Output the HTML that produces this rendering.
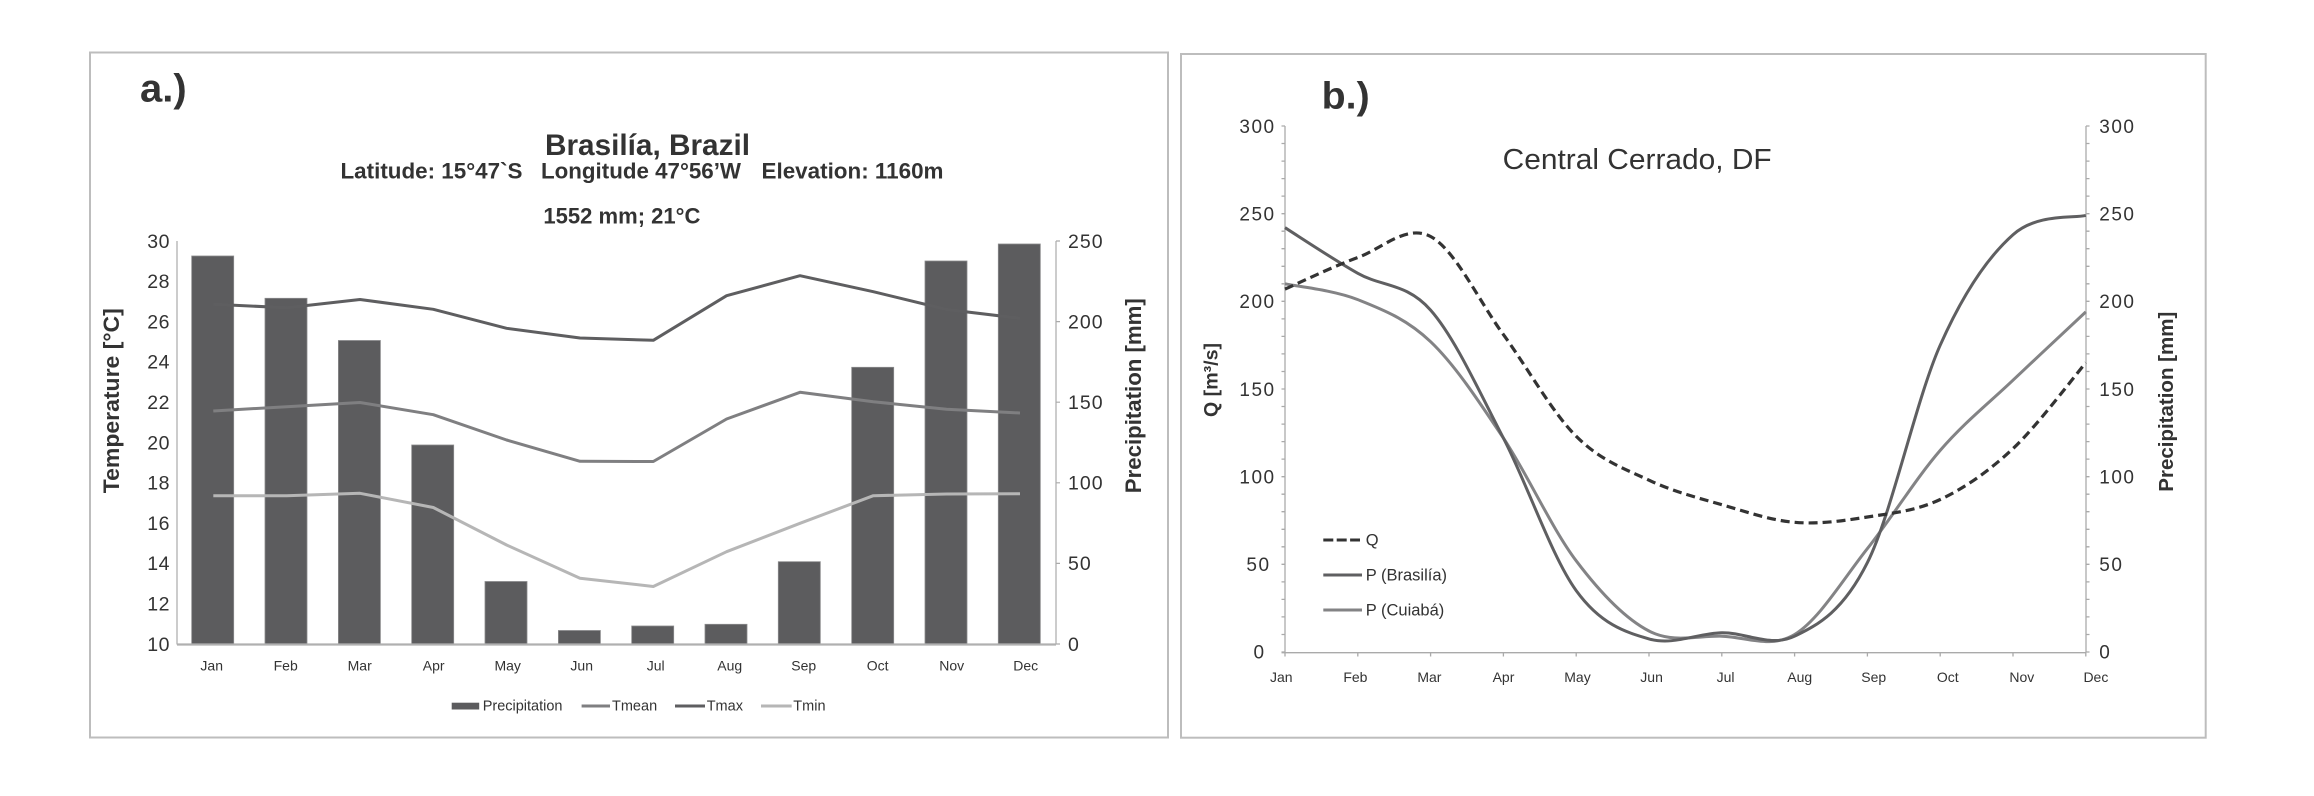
<!DOCTYPE html>
<html><head><meta charset="utf-8"><style>
html,body{margin:0;padding:0;background:#fff;}
svg{display:block;}
text{font-family:"Liberation Sans",Arial,sans-serif;fill:#333;}
</style></head><body>
<svg width="2314" height="796" viewBox="0 0 2314 796" xmlns="http://www.w3.org/2000/svg">
<rect x="0" y="0" width="2314" height="796" fill="#fff"/>
<!-- Frames -->
<rect x="90" y="52.5" width="1078" height="685" fill="none" stroke="#bdbdbd" stroke-width="2"/>
<rect x="1181" y="54" width="1024.7" height="683.7" fill="none" stroke="#bdbdbd" stroke-width="2"/>

<!-- ========== Chart a ========== -->
<text x="140" y="101.7" font-size="39" font-weight="bold" textLength="46.7" lengthAdjust="spacingAndGlyphs">a.)</text>
<text x="545" y="155" font-size="29.5" font-weight="bold" textLength="205" lengthAdjust="spacingAndGlyphs">Brasilía, Brazil</text>
<text x="340.5" y="178.3" font-size="22.5" font-weight="bold" textLength="182" lengthAdjust="spacingAndGlyphs">Latitude: 15°47`S</text>
<text x="541" y="178.3" font-size="22.5" font-weight="bold" textLength="200" lengthAdjust="spacingAndGlyphs">Longitude 47°56’W</text>
<text x="761.5" y="178.3" font-size="22.5" font-weight="bold" textLength="182" lengthAdjust="spacingAndGlyphs">Elevation: 1160m</text>
<text x="543.4" y="223.3" font-size="22.5" font-weight="bold" textLength="157" lengthAdjust="spacingAndGlyphs">1552 mm; 21°C</text>

<!-- bars -->
<g fill="#5c5c5e" stroke="#8a8a8c" stroke-width="0.8">
<rect x="191.7" y="256" width="42" height="388"/>
<rect x="265.0" y="298.3" width="42" height="345.7"/>
<rect x="338.4" y="340.5" width="42" height="303.5"/>
<rect x="411.7" y="445" width="42" height="199"/>
<rect x="485.0" y="581.5" width="42" height="62.5"/>
<rect x="558.4" y="630.5" width="42" height="13.5"/>
<rect x="631.7" y="626" width="42" height="18"/>
<rect x="705.0" y="624.3" width="42" height="19.7"/>
<rect x="778.3" y="561.7" width="42" height="82.3"/>
<rect x="851.7" y="367.3" width="42" height="276.7"/>
<rect x="925.0" y="261" width="42" height="383"/>
<rect x="998.3" y="244" width="42" height="400"/>
</g>

<!-- axes a -->
<line x1="177" y1="241" x2="177" y2="644.5" stroke="#aaaaaa" stroke-width="1.2"/>
<line x1="1056" y1="241" x2="1056" y2="644.5" stroke="#aaaaaa" stroke-width="1.2"/>
<path d="M1056,241h4M1056,321.6h4M1056,402.2h4M1056,482.8h4M1056,563.4h4M1056,644h4" stroke="#aaaaaa" stroke-width="1.2"/>
<line x1="177" y1="644.5" x2="1056" y2="644.5" stroke="#b0b0b0" stroke-width="2.2"/>

<!-- lines a -->
<g fill="none" stroke-width="3" stroke-linejoin="round">
<polyline stroke="#7f7f81" points="213.3,411 286.6,406.7 360,402.5 433.3,414.7 506.6,440 580,461.3 653.3,461.5 726.6,419 800,392.3 873.3,401.7 946.6,409.3 1020,413"/>
<polyline stroke="#5e5e60" points="213.3,304.3 286.6,307.7 360,299.5 433.3,309.3 506.6,328.3 580,338 653.3,340.3 726.6,295.7 800,275.7 873.3,291.7 946.6,309.5 1020,318.3"/>
<polyline stroke="#b6b6b6" points="213.3,495.7 286.6,495.7 360,493.3 433.3,507.5 506.6,545 580,578.2 653.3,586.5 726.6,551.7 800,523.3 873.3,495.7 946.6,494 1020,493.7"/>
</g>

<!-- left tick labels a -->
<g font-size="19.5" text-anchor="end" letter-spacing="0.5">
<text x="170" y="247.8">30</text>
<text x="170" y="288.1">28</text>
<text x="170" y="328.4">26</text>
<text x="170" y="368.7">24</text>
<text x="170" y="409">22</text>
<text x="170" y="449.3">20</text>
<text x="170" y="489.6">18</text>
<text x="170" y="529.9">16</text>
<text x="170" y="570.2">14</text>
<text x="170" y="610.5">12</text>
<text x="170" y="650.8">10</text>
</g>
<g font-size="19.5" letter-spacing="1">
<text x="1068" y="247.8">250</text>
<text x="1068" y="328.4">200</text>
<text x="1068" y="409">150</text>
<text x="1068" y="489.6">100</text>
<text x="1068" y="570.2">50</text>
<text x="1068" y="650.8">0</text>
</g>

<!-- month labels a -->
<g font-size="14" text-anchor="middle">
<text x="211.7" y="670.7">Jan</text>
<text x="285.7" y="670.7">Feb</text>
<text x="359.7" y="670.7">Mar</text>
<text x="433.7" y="670.7">Apr</text>
<text x="507.7" y="670.7">May</text>
<text x="581.7" y="670.7">Jun</text>
<text x="655.7" y="670.7">Jul</text>
<text x="729.7" y="670.7">Aug</text>
<text x="803.7" y="670.7">Sep</text>
<text x="877.7" y="670.7">Oct</text>
<text x="951.7" y="670.7">Nov</text>
<text x="1025.7" y="670.7">Dec</text>
</g>

<!-- axis titles a -->
<text transform="translate(118.8,400.7) rotate(-90)" text-anchor="middle" font-size="22" font-weight="bold" textLength="185" lengthAdjust="spacingAndGlyphs">Temperature  [°C]</text>
<text transform="translate(1141,395.7) rotate(-90)" text-anchor="middle" font-size="22" font-weight="bold" textLength="195" lengthAdjust="spacingAndGlyphs">Precipitation [mm]</text>

<!-- legend a -->
<rect x="451.7" y="702.7" width="27.5" height="6.8" fill="#5c5c5e"/>
<text x="482.7" y="710.7" font-size="14.5">Precipitation</text>
<line x1="581.6" y1="706" x2="610" y2="706" stroke="#7f7f81" stroke-width="3"/>
<text x="612" y="710.7" font-size="14.5">Tmean</text>
<line x1="675" y1="706" x2="705" y2="706" stroke="#5e5e60" stroke-width="3"/>
<text x="706.7" y="710.7" font-size="14.5">Tmax</text>
<line x1="761" y1="706" x2="791.7" y2="706" stroke="#b6b6b6" stroke-width="3"/>
<text x="793.3" y="710.7" font-size="14.5">Tmin</text>

<!-- ========== Chart b ========== -->
<text x="1321.7" y="108.5" font-size="38" font-weight="bold" textLength="48" lengthAdjust="spacingAndGlyphs">b.)</text>
<text x="1502.7" y="169" font-size="29" textLength="269" lengthAdjust="spacingAndGlyphs">Central Cerrado, DF</text>

<!-- axes b -->
<g stroke="#aaaaaa" stroke-width="1.3" fill="none">
<line x1="1285" y1="126" x2="1285" y2="652.7"/>
<line x1="2086" y1="126" x2="2086" y2="652.7"/>
<line x1="1281.5" y1="652.7" x2="2086" y2="652.7"/>
<path d="M1281.5,652h3.5M1281.5,634.5h3.5M1281.5,616.9h3.5M1281.5,599.4h3.5M1281.5,581.9h3.5M1281.5,564.3h3.5M1281.5,546.8h3.5M1281.5,529.3h3.5M1281.5,511.7h3.5M1281.5,494.2h3.5M1281.5,476.7h3.5M1281.5,459.1h3.5M1281.5,441.6h3.5M1281.5,424.1h3.5M1281.5,406.5h3.5M1281.5,389h3.5M1281.5,371.5h3.5M1281.5,353.9h3.5M1281.5,336.4h3.5M1281.5,318.9h3.5M1281.5,301.3h3.5M1281.5,283.8h3.5M1281.5,266.3h3.5M1281.5,248.7h3.5M1281.5,231.2h3.5M1281.5,213.7h3.5M1281.5,196.1h3.5M1281.5,178.6h3.5M1281.5,161.1h3.5M1281.5,143.5h3.5M1281.5,126h3.5"/>
<path d="M2086,652h3.5M2086,634.5h3.5M2086,616.9h3.5M2086,599.4h3.5M2086,581.9h3.5M2086,564.3h3.5M2086,546.8h3.5M2086,529.3h3.5M2086,511.7h3.5M2086,494.2h3.5M2086,476.7h3.5M2086,459.1h3.5M2086,441.6h3.5M2086,424.1h3.5M2086,406.5h3.5M2086,389h3.5M2086,371.5h3.5M2086,353.9h3.5M2086,336.4h3.5M2086,318.9h3.5M2086,301.3h3.5M2086,283.8h3.5M2086,266.3h3.5M2086,248.7h3.5M2086,231.2h3.5M2086,213.7h3.5M2086,196.1h3.5M2086,178.6h3.5M2086,161.1h3.5M2086,143.5h3.5M2086,126h3.5"/>
<path d="M1285,652.7v3.8M1357.8,652.7v3.8M1430.6,652.7v3.8M1503.4,652.7v3.8M1576.2,652.7v3.8M1649,652.7v3.8M1721.8,652.7v3.8M1794.6,652.7v3.8M1867.4,652.7v3.8M1940.2,652.7v3.8M2013,652.7v3.8M2085.8,652.7v3.8"/>
</g>

<!-- tick labels b -->
<g font-size="19" text-anchor="middle" letter-spacing="1.5">
<text x="1257.5" y="132.8">300</text>
<text x="1257.5" y="220.5">250</text>
<text x="1257.5" y="308.1">200</text>
<text x="1257.5" y="395.8">150</text>
<text x="1257.5" y="483.5">100</text>
<text x="1258.5" y="571.1">50</text>
<text x="1259.5" y="658.5">0</text>
</g>
<g font-size="19" letter-spacing="1.5">
<text x="2099.3" y="132.8">300</text>
<text x="2099.3" y="220.5">250</text>
<text x="2099.3" y="308.1">200</text>
<text x="2099.3" y="395.8">150</text>
<text x="2099.3" y="483.5">100</text>
<text x="2099.3" y="571.1">50</text>
<text x="2099.3" y="658.5">0</text>
</g>

<!-- month labels b -->
<g font-size="14" text-anchor="middle">
<text x="1281.3" y="682">Jan</text>
<text x="1355.4" y="682">Feb</text>
<text x="1429.4" y="682">Mar</text>
<text x="1503.5" y="682">Apr</text>
<text x="1577.5" y="682">May</text>
<text x="1651.6" y="682">Jun</text>
<text x="1725.6" y="682">Jul</text>
<text x="1799.7" y="682">Aug</text>
<text x="1873.7" y="682">Sep</text>
<text x="1947.8" y="682">Oct</text>
<text x="2021.8" y="682">Nov</text>
<text x="2095.9" y="682">Dec</text>
</g>

<!-- axis titles b -->
<text transform="translate(1217.3,380) rotate(-90)" text-anchor="middle" font-size="19.5" font-weight="bold" textLength="74" lengthAdjust="spacingAndGlyphs">Q [m³/s]</text>
<text transform="translate(2173,401.7) rotate(-90)" text-anchor="middle" font-size="20.5" font-weight="bold" textLength="180" lengthAdjust="spacingAndGlyphs">Precipitation [mm]</text>

<!-- curves b -->
<g fill="none" stroke-width="3" stroke-linecap="butt">
<path stroke="#838385" d="M1285,283.8 C1297.1,286.4 1333.5,290.0 1357.8,299.6 C1382.1,309.3 1406.3,318.6 1430.6,341.7 C1454.9,364.8 1479.1,401.6 1503.4,438.1 C1527.7,474.6 1551.9,528.7 1576.2,560.8 C1600.5,593.0 1624.7,618.4 1649,631.0 C1673.3,643.6 1697.5,635.6 1721.8,636.2 C1746.1,636.8 1770.3,649.1 1794.6,634.5 C1818.9,619.9 1843.1,579.3 1867.4,548.6 C1891.7,517.9 1915.9,478.5 1940.2,450.4 C1964.5,422.3 1988.7,403.3 2013,380.2 C2037.3,357.1 2073.7,323.3 2085.8,311.9"/>
<path stroke="#5f5f61" d="M1285,227.7 C1297.1,235.3 1333.5,259.6 1357.8,273.3 C1382.1,287.0 1406.3,282.6 1430.6,310.1 C1454.9,337.6 1479.1,391.4 1503.4,438.1 C1527.7,484.9 1551.9,557.1 1576.2,590.6 C1600.5,624.1 1624.7,631.9 1649,638.9 C1673.3,645.9 1697.5,633.2 1721.8,632.7 C1746.1,632.3 1770.3,647.9 1794.6,636.2 C1818.9,624.5 1843.1,611.1 1867.4,562.6 C1891.7,514.1 1915.9,399.9 1940.2,345.2 C1964.5,290.6 1988.7,256.3 2013,234.7 C2037.3,213.1 2073.7,218.6 2085.8,215.4"/>
<path stroke="#333333" stroke-width="3.2" stroke-dasharray="9,5" d="M1285,289.1 C1297.1,283.8 1333.5,266.3 1357.8,257.5 C1382.1,248.7 1406.3,223.7 1430.6,236.5 C1454.9,249.4 1479.1,301.3 1503.4,334.6 C1527.7,367.9 1551.9,412.0 1576.2,436.3 C1600.5,460.6 1624.7,468.8 1649,480.2 C1673.3,491.6 1697.5,497.7 1721.8,504.7 C1746.1,511.7 1770.3,520.3 1794.6,522.3 C1818.9,524.4 1843.1,520.8 1867.4,517.0 C1891.7,513.2 1915.9,510.9 1940.2,499.5 C1964.5,488.1 1988.7,471.4 2013,448.6 C2037.3,425.8 2073.7,377.0 2085.8,362.7"/>
</g>

<!-- legend b -->
<line x1="1323.3" y1="540" x2="1360" y2="540" stroke="#333333" stroke-width="3" stroke-dasharray="10,3.4"/>
<text x="1365.7" y="545.5" font-size="16.5">Q</text>
<line x1="1323.3" y1="575" x2="1362" y2="575" stroke="#5f5f61" stroke-width="3"/>
<text x="1365.7" y="580.5" font-size="16.5">P (Brasilía)</text>
<line x1="1323.3" y1="610" x2="1362" y2="610" stroke="#838385" stroke-width="3"/>
<text x="1365.7" y="615.5" font-size="16.5">P (Cuiabá)</text>
</svg>
</body></html>
